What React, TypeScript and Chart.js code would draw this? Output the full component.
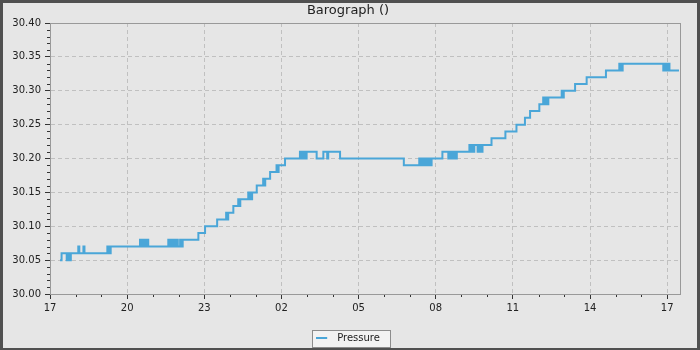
import React, { useEffect, useRef } from "react";
import { Chart, registerables } from "chart.js";

Chart.register(...registerables);

const CHART_TITLE = "Barograph ()";
const SERIES_NAME = "Pressure";

// Hours elapsed since 17:00 on the first day, and the barometer reading (inHg) that starts at that moment.
const HOURS = [
  0.39, 0.45, 0.65, 0.69, 0.72, 0.76, 0.78, 0.81, 1.10, 1.14,
  1.30, 1.34, 2.23, 2.27, 2.31, 2.33, 2.36, 3.50, 3.55, 3.60,
  3.64, 3.68, 3.72, 3.76, 3.82, 4.60, 4.64, 4.68, 4.72, 4.76,
  4.80, 4.84, 4.88, 4.92, 4.97, 5.06, 5.10, 5.16, 5.77, 6.03,
  6.50, 6.85, 6.88, 6.93, 7.13, 7.32, 7.36, 7.40, 7.71, 7.75,
  7.79, 7.83, 7.86, 8.04, 8.29, 8.33, 8.37, 8.56, 8.81, 8.85,
  8.89, 9.14, 9.72, 9.78, 9.82, 9.86, 9.90, 9.94, 9.98, 10.37,
  10.63, 10.78, 10.82, 11.28, 13.76, 14.36, 14.42, 14.48, 14.54, 14.60,
  14.66, 14.72, 14.78, 14.84, 15.26, 15.49, 15.54, 15.59, 15.64, 15.69,
  15.74, 15.78, 15.82, 16.31, 16.36, 16.41, 16.46, 16.50, 16.63, 16.67,
  16.71, 16.75, 16.79, 16.82, 17.17, 17.71, 18.14, 18.47, 18.67, 19.03,
  19.18, 19.23, 19.28, 19.33, 19.38, 19.90, 19.94, 19.98, 20.42, 20.87,
  21.62, 22.14, 22.18, 22.22, 22.25, 22.27, 23.85, 23.89, 23.93, 23.97,
  24.01, 24.05, 24.09, 24.46,
];
const PRESSURE = [
  30.05, 30.06, 30.05, 30.06, 30.05, 30.06, 30.05, 30.06, 30.07, 30.06,
  30.07, 30.06, 30.07, 30.06, 30.07, 30.06, 30.07, 30.08, 30.07, 30.08,
  30.07, 30.08, 30.07, 30.08, 30.07, 30.08, 30.07, 30.08, 30.07, 30.08,
  30.07, 30.08, 30.07, 30.08, 30.07, 30.08, 30.07, 30.08, 30.09, 30.10,
  30.11, 30.12, 30.11, 30.12, 30.13, 30.14, 30.13, 30.14, 30.15, 30.14,
  30.15, 30.14, 30.15, 30.16, 30.17, 30.16, 30.17, 30.18, 30.19, 30.18,
  30.19, 30.20, 30.21, 30.20, 30.21, 30.20, 30.21, 30.20, 30.21, 30.20,
  30.21, 30.20, 30.21, 30.20, 30.19, 30.20, 30.19, 30.20, 30.19, 30.20,
  30.19, 30.20, 30.19, 30.20, 30.21, 30.20, 30.21, 30.20, 30.21, 30.20,
  30.21, 30.20, 30.21, 30.22, 30.21, 30.22, 30.21, 30.22, 30.21, 30.22,
  30.21, 30.22, 30.21, 30.22, 30.23, 30.24, 30.25, 30.26, 30.27, 30.28,
  30.29, 30.28, 30.29, 30.28, 30.29, 30.30, 30.29, 30.30, 30.31, 30.32,
  30.33, 30.34, 30.33, 30.34, 30.33, 30.34, 30.33, 30.34, 30.33, 30.34,
  30.33, 30.34, 30.33, 30.33,
];

// Axis ticks: one label every 3 hours starting at 17:00.
const X_TICK_LABELS = ["17", "20", "23", "02", "05", "08", "11", "14", "17"];
const X_TICK_STEP = 3;
const X_MIN = 0;
const X_MAX = 24.5;
const Y_MIN = 30.0;
const Y_MAX = 30.4;
const Y_TICK_STEP = 0.05;
const Y_MINOR_STEP = 0.01;
const X_MINOR_STEP = 1;

const FONT = "DejaVu Sans";
const LINE_COLOR = "#4aa6d8";
const BG = "#e6e6e6";
const TEXT = "#222222";

const decorPlugin = {
  id: "decor",
  beforeDraw(chart: any) {
    const { ctx, width, height } = chart;
    ctx.save();
    ctx.fillStyle = "#505050";
    ctx.fillRect(0, 0, width, height);
    ctx.fillStyle = BG;
    ctx.fillRect(3, 3, width - 6, height - 5);
    const hb = chart.legend && chart.legend.legendHitBoxes && chart.legend.legendHitBoxes[0];
    if (hb) {
      const x = Math.round(hb.left - 4.5) + 0.5;
      const y = Math.round(hb.top - 3) + 0.5;
      const w = Math.round(hb.width + 14.7);
      const h = 17;
      ctx.fillStyle = "#f2f2f2";
      ctx.fillRect(x, y, w, h);
      ctx.strokeStyle = "#8c8c8c";
      ctx.lineWidth = 1;
      ctx.strokeRect(x, y, w, h);
    }
    ctx.restore();
  },
  afterDraw(chart: any) {
    const { ctx, chartArea: a, scales } = chart;
    ctx.save();
    ctx.lineWidth = 1;
    ctx.strokeStyle = "#333333";
    ctx.beginPath();
    const ys = scales.y;
    const nY = Math.round((Y_MAX - Y_MIN) / Y_MINOR_STEP);
    const perMajorY = Math.round(Y_TICK_STEP / Y_MINOR_STEP);
    for (let i = 1; i < nY; i++) {
      if (i % perMajorY === 0) continue;
      const py = Math.round(ys.getPixelForValue(Y_MIN + i * Y_MINOR_STEP)) + 0.5;
      ctx.moveTo(a.left - 3, py);
      ctx.lineTo(a.left, py);
    }
    const xs = scales.x;
    const perMajorX = Math.round(X_TICK_STEP / X_MINOR_STEP);
    for (let i = 1; X_MIN + i * X_MINOR_STEP < X_MAX; i++) {
      if (i % perMajorX === 0) continue;
      const px = Math.round(xs.getPixelForValue(X_MIN + i * X_MINOR_STEP)) + 0.5;
      ctx.moveTo(px, a.bottom);
      ctx.lineTo(px, a.bottom + 3);
    }
    ctx.stroke();
    ctx.strokeStyle = "#999999";
    ctx.strokeRect(
      Math.round(a.left) + 0.5,
      Math.round(a.top) + 0.5,
      Math.round(a.right - a.left),
      Math.round(a.bottom - a.top)
    );
    ctx.restore();
  },
};

export default function App() {
  const ref = useRef<HTMLCanvasElement>(null);

  useEffect(() => {
    document.body.style.margin = "0";
    const canvas = ref.current;
    if (!canvas) return;

    const sample = document.createElement("canvas");
    sample.width = 16;
    sample.height = 2;
    const sctx = sample.getContext("2d");
    if (sctx) {
      sctx.fillStyle = LINE_COLOR;
      sctx.fillRect(0, 0, 11, 2);
    }

    const tickFont = { family: FONT, size: 10 };

    const chart = new Chart(canvas, {
      type: "line",
      data: {
        datasets: [
          {
            label: SERIES_NAME,
            data: HOURS.map((h, i) => ({ x: h, y: PRESSURE[i] })),
            borderColor: LINE_COLOR,
            backgroundColor: LINE_COLOR,
            borderWidth: 2,
            pointRadius: 0,
            stepped: true,
            fill: false,
          },
        ],
      },
      options: {
        animation: false,
        responsive: false,
        devicePixelRatio: 1,
        events: [],
        layout: { padding: { left: 0, right: 4, top: 0, bottom: 0 } },
        plugins: {
          title: {
            display: true,
            text: CHART_TITLE,
            color: TEXT,
            font: { family: FONT, size: 13, weight: "normal" },
            padding: { top: 3, bottom: 4.4 },
          },
          legend: {
            display: true,
            position: "bottom",
            maxHeight: 21,
            labels: {
              usePointStyle: true,
              pointStyle: sample,
              pointStyleWidth: 16,
              padding: 4,
              color: TEXT,
              font: tickFont,
            },
          },
          tooltip: { enabled: false },
        },
        scales: {
          x: {
            type: "linear",
            position: "bottom",
            min: X_MIN,
            max: X_MAX,
            afterFit: (s: any) => {
              s.height = 35;
            },
            ticks: {
              stepSize: X_TICK_STEP,
              includeBounds: false,
              autoSkip: false,
              maxRotation: 0,
              padding: 3,
              color: TEXT,
              font: tickFont,
              callback: (v: any) => {
                const i = Math.round((Number(v) - X_MIN) / X_TICK_STEP);
                return Math.abs(Number(v) - (X_MIN + i * X_TICK_STEP)) < 1e-6 ? X_TICK_LABELS[i] : "";
              },
            },
            grid: { color: "#c0c0c0", lineWidth: 1, tickColor: "#333333", tickLength: 5 },
            border: { display: true, color: "#999999", width: 1, dash: [4, 3] },
          },
          y: {
            type: "linear",
            position: "left",
            min: Y_MIN,
            max: Y_MAX,
            afterFit: (s: any) => {
              s.width = 50;
            },
            ticks: {
              stepSize: Y_TICK_STEP,
              includeBounds: false,
              autoSkip: false,
              padding: 4,
              color: TEXT,
              font: tickFont,
              callback: (v: any) => Number(v).toFixed(2),
            },
            grid: { color: "#c0c0c0", lineWidth: 1, tickColor: "#333333", tickLength: 5 },
            border: { display: true, color: "#999999", width: 1, dash: [4, 3] },
          },
          yR: {
            type: "linear",
            position: "right",
            display: true,
            afterFit: (s: any) => {
              s.width = 16;
            },
            grid: { display: false },
            ticks: { display: false },
            border: { display: false },
          },
        },
      } as any,
      plugins: [decorPlugin],
    });

    return () => chart.destroy();
  }, []);

  return (
    <canvas
      ref={ref}
      width={700}
      height={350}
      style={{ display: "block", width: 700, height: 350 }}
    />
  );
}
